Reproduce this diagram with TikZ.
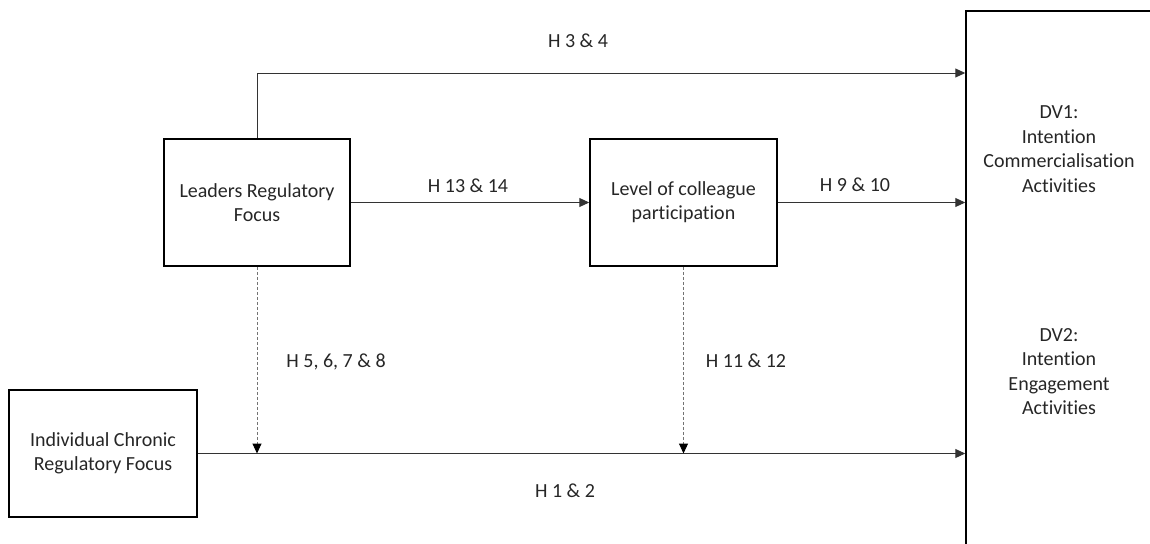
\documentclass[tikz,border=0pt]{standalone}
\usepackage{fontspec}
\setmainfont{Carlito}[Ligatures=NoCommon]
\usetikzlibrary{arrows.meta}
\begin{document}
\begin{tikzpicture}[x=1pt,y=-1pt,
  box/.style={draw=black,line width=1.5pt,rectangle,inner sep=0pt,
    minimum height=127pt,align=center,text=black!85,
    font=\fontsize{20}{24}\selectfont},
  lbl/.style={font=\fontsize{20}{24}\selectfont,text=black!85,inner sep=0pt},
  dvtext/.style={font=\fontsize{20}{24.5}\selectfont,text=black!85,
    inner sep=0pt,align=center},
  conn/.style={draw=black!80,line width=1pt,-{Triangle[length=10pt,width=9pt]}},
  modr/.style={draw=black!55,line width=1pt,dash pattern=on 3pt off 2pt,
    -{Triangle[length=10pt,width=9pt,color=black,fill=black]}}
]
\useasboundingbox (0,0) rectangle (1150,543);
\clip (0,0) rectangle (1150,543);

% constructs
\node[box,minimum width=186pt] (leaders) at (257,202.5) {Leaders Regulatory\\Focus};
\node[box,minimum width=187pt] (level) at (683.5,202.5) {Level of colleague\\participation};
\node[box,minimum width=188pt] (indiv) at (103,453.5) {Individual Chronic\\Regulatory Focus};
% outcome block, running off the right and bottom edges
\node[box,minimum width=234pt,minimum height=589pt] (dv) at (1083,305.5) {};
\node[dvtext] (dv1) at (1059,149) {DV1:\\Intention\\Commercialisation\\Activities};
\node[dvtext] (dv2) at (1059,371.5) {DV2:\\Intention\\Engagement\\Activities};

% direct paths
\draw[conn] (leaders.north) |- (dv.west |- 0,73);
\draw[conn] (leaders.east) -- (level.west);
\draw[conn] (level.east) -- (dv.west |- level.east);
\draw[conn] (indiv.east) -- (dv.west |- indiv.east);

% moderating paths
\draw[modr] (leaders.south) -- (leaders.south |- indiv.east);
\draw[modr] (level.south) -- (level.south |- indiv.east);

% hypothesis labels
\node[lbl,anchor=base] (h34) at (578,48) {H 3 \& 4};
\node[lbl,anchor=base] (h1314) at (468,192) {H 13 \& 14};
\node[lbl,anchor=base] (h910) at (855,191) {H 9 \& 10};
\node[lbl,anchor=base] (h5678) at (336,367) {H 5, 6, 7 \& 8};
\node[lbl,anchor=base] (h1112) at (746,367) {H 11 \& 12};
\node[lbl,anchor=base] (h12) at (565,497) {H 1 \& 2};
\end{tikzpicture}
\end{document}
